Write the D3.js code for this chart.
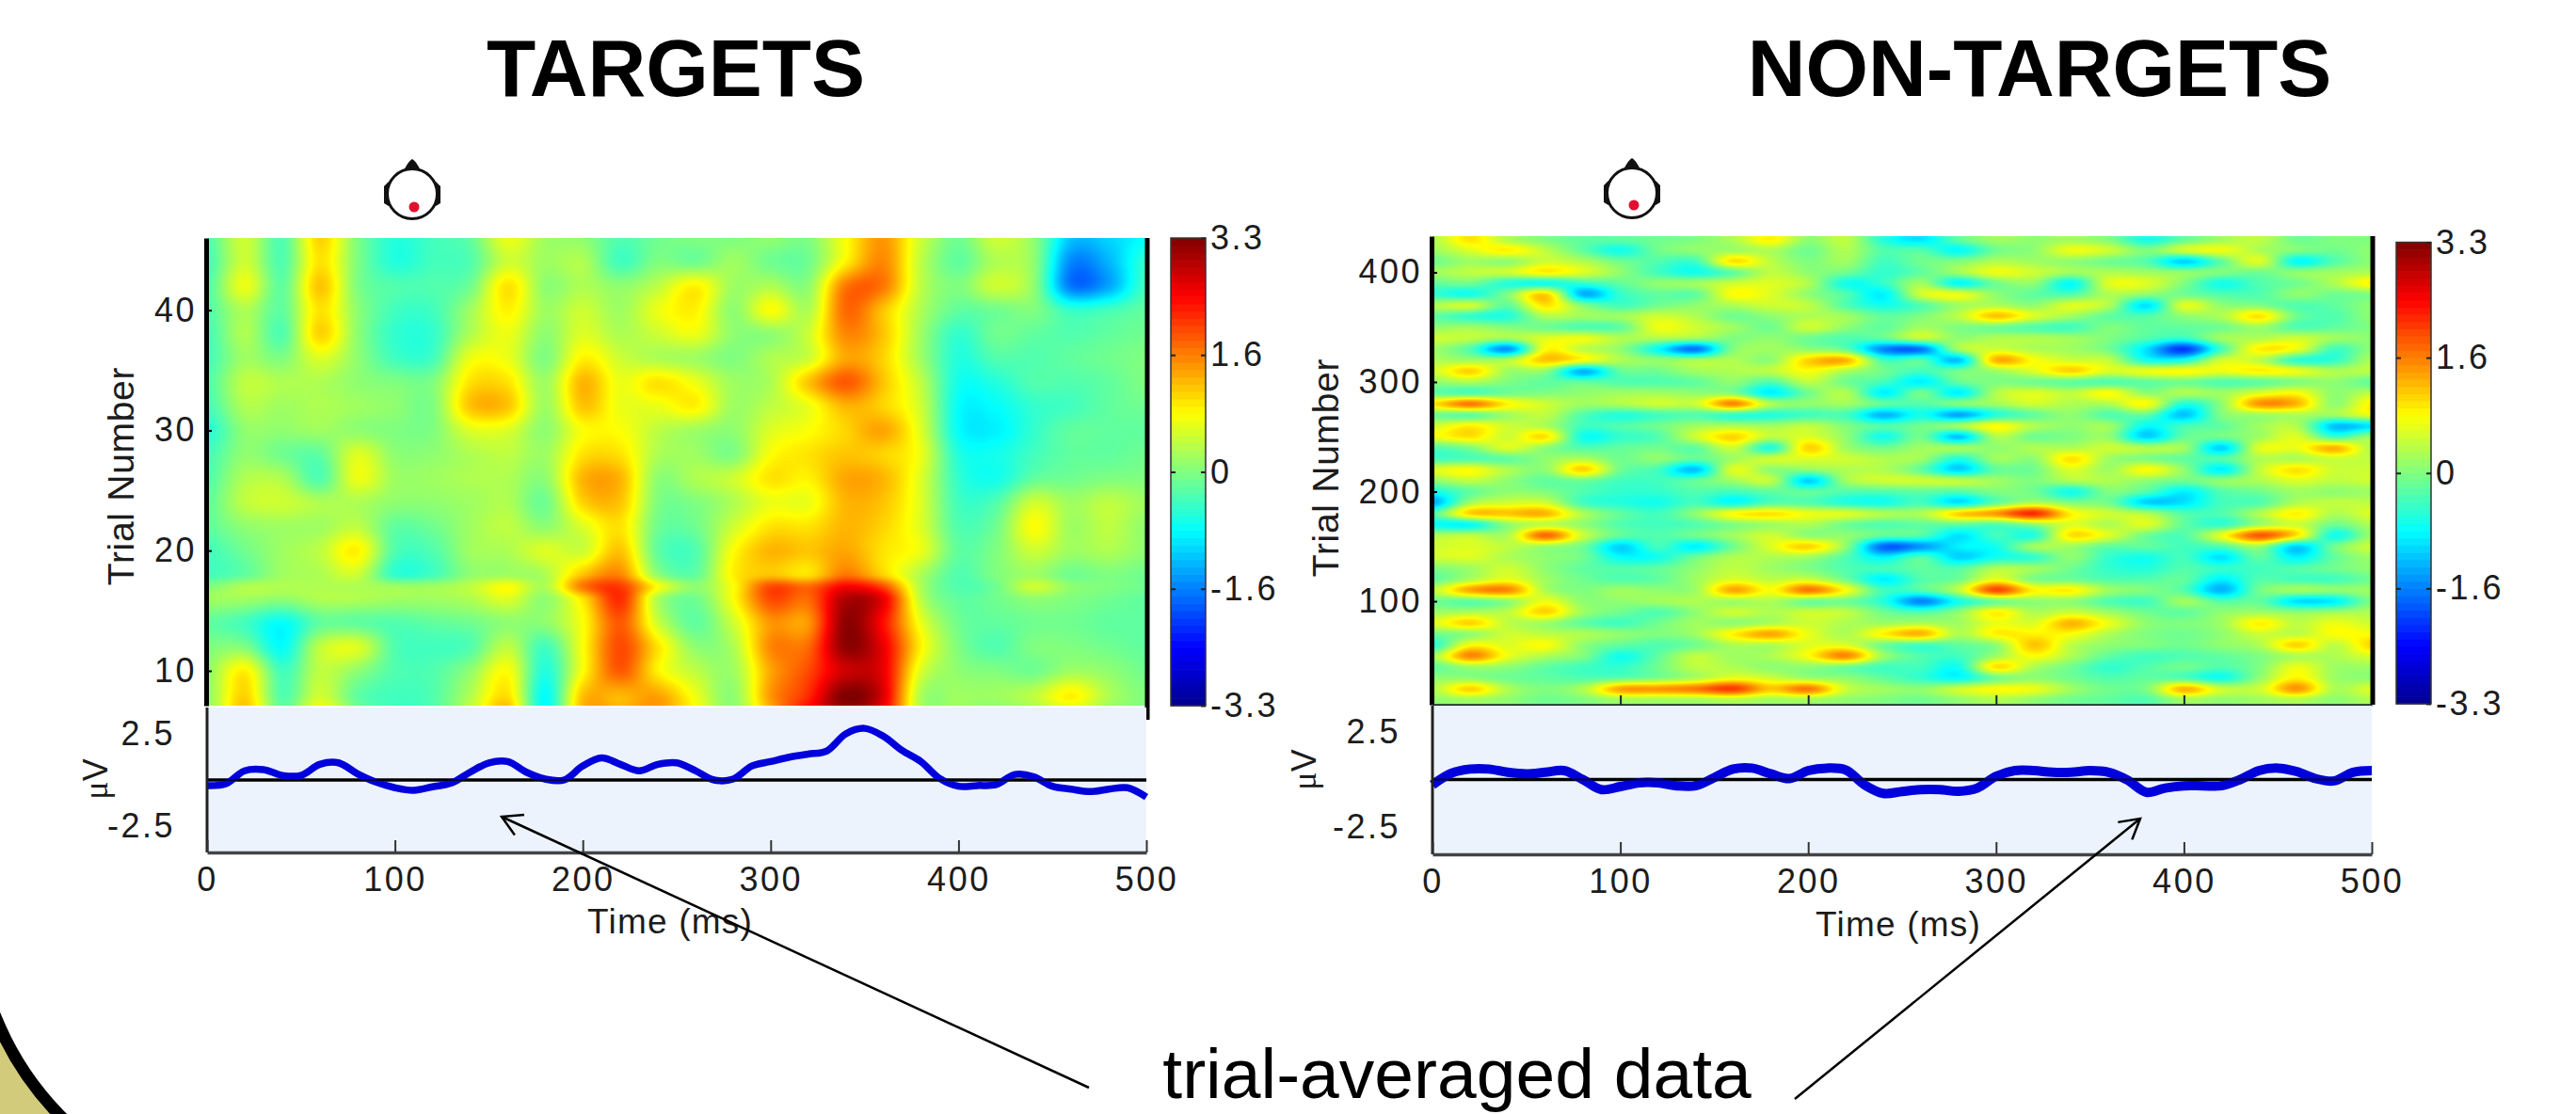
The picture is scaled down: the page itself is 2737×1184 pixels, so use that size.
<!DOCTYPE html>
<html>
<head>
<meta charset="utf-8">
<script src="https://cdn.jsdelivr.net/npm/d3@7"></script>
<style>
html, body { margin: 0; padding: 0; background: #fff; }
svg { display: block; font-family: "Liberation Sans", Arial, sans-serif; }
</style>
</head>
<body>
<svg id="chart" width="2737" height="1184"></svg>
<script>
// ---- data. Heatmap cells are in 0.1 uV ----
const gridTimes = [0,20,40,60,80,100,120,140,160,180,200,220,240,260,280,300,320,340,360,380,400,420,440,460,480,500];
const erpTimes = [0,10,20,30,40,50,60,70,80,90,100,110,120,130,140,150,160,170,180,190,200,210,220,230,240,250,260,270,280,290,300,310,320,330,340,350,360,370,380,390,400,410,420,430,440,450,460,470,480,490,500];

const targetTrials = [46,44,42,40,38,36,34,32,30,28,26,24,22,20,18,17,16,14,12,10,8,7];
const targetCells = [
  [-3,5,-3,11,0,-6,-4,-2,7,2,1,-3,-1,0,0,1,0,8,15,5,-1,5,1,-12,-11,-8],
  [-4,5,-3,10,0,-6,-4,-3,5,2,3,-4,0,-1,2,-1,-1,9,16,4,-2,3,1,-16,-13,-5],
  [-3,7,-2,12,0,-3,-3,-1,10,1,3,1,4,9,2,3,1,17,17,4,0,5,1,-17,-14,-4],
  [-3,3,-2,10,1,-4,-4,2,9,2,5,2,7,9,1,8,3,18,12,3,-2,-1,0,-5,-4,-2],
  [-4,3,-3,11,1,-5,-5,3,7,1,6,3,5,7,1,1,5,16,12,2,-5,-1,-2,-3,-2,-1],
  [-4,2,0,6,1,-4,-4,7,7,0,9,5,3,2,0,3,5,14,11,2,-6,-3,-3,-2,-1,0],
  [-3,4,3,3,1,0,0,10,10,2,13,7,10,7,2,3,12,19,12,4,-7,-6,-3,-3,-2,0],
  [-4,3,2,3,2,1,0,12,12,2,12,7,7,9,2,4,7,13,11,5,-8,-8,-5,-4,-2,-1],
  [-6,1,1,2,1,0,0,6,6,1,8,8,4,2,1,6,8,11,14,6,-8,-9,-5,-2,-2,-2],
  [-4,1,-1,-2,6,1,1,3,4,2,10,10,3,2,0,8,10,12,11,7,-6,-7,-4,-2,-2,-1],
  [-3,3,3,-3,7,2,2,3,3,1,13,13,1,3,5,10,9,14,13,6,-5,-7,-2,-1,0,0],
  [-2,4,5,3,3,1,1,2,3,-1,11,12,0,0,3,7,7,13,12,6,-4,-3,5,2,4,2],
  [-2,1,2,2,4,-2,-1,2,4,1,6,10,-1,-1,5,10,10,13,11,6,-3,-1,8,2,4,1],
  [-4,-1,2,4,9,-3,-3,2,3,6,5,12,-2,-3,8,13,12,14,10,7,-2,0,5,2,3,1],
  [-4,-2,2,3,5,-5,-4,1,2,3,12,16,1,-2,9,12,10,17,11,3,-3,0,2,-1,0,-1],
  [0,3,3,3,3,2,2,4,8,3,17,21,8,1,8,20,18,25,20,3,-3,-1,5,1,0,-1],
  [2,2,1,3,3,2,2,3,6,1,10,22,3,-1,8,20,18,30,26,4,-2,-1,1,0,-1,-2],
  [-2,-4,-8,-2,-2,-3,-2,-1,1,1,8,19,5,-2,5,15,15,32,24,7,-1,-2,-1,-1,-2,-2],
  [0,0,-8,4,6,-3,-4,-3,4,-4,8,20,10,1,3,16,18,32,26,9,0,-3,0,0,-1,-2],
  [1,9,-4,4,1,-3,-3,1,8,-6,8,19,9,4,2,14,20,28,26,6,1,0,-1,2,1,-1],
  [1,11,-3,5,-2,-4,-3,3,10,-8,12,13,14,7,1,15,22,33,27,3,2,2,4,9,3,0],
  [1,12,-2,7,-1,-4,-3,4,12,-8,13,13,15,8,1,14,24,32,26,3,2,1,3,7,2,0]
];
const targetErp = [-0.3,-0.2,0.5,0.56,0.25,0.25,0.85,0.93,0.34,-0.12,-0.42,-0.56,-0.37,-0.17,0.42,0.93,1.0,0.42,0.05,0,0.76,1.2,0.85,0.5,0.85,0.93,0.5,0,0.05,0.76,1.0,1.24,1.4,1.58,2.5,2.8,2.37,1.6,1.0,0.08,-0.34,-0.3,-0.25,0.3,0.17,-0.34,-0.5,-0.63,-0.5,-0.42,-0.93];

const nonTargetTrials = [430,420,410,400,390,380,370,360,350,340,330,320,310,300,290,280,270,260,250,240,230,220,210,200,190,180,170,160,150,140,130,120,110,100,90,80,70,60,50,40,30,20,10];
const nonTargetCells = [
  [3,10,3,0,-2,-2,-1,0,3,9,1,4,-6,-10,-2,2,1,2,0,-7,-2,2,4,-1,0,0],
  [2,6,9,4,-2,-7,-1,1,2,3,-1,3,-3,-3,-8,-1,1,7,5,0,5,7,3,0,-1,1],
  [-1,2,1,5,3,-1,-3,-4,10,4,0,2,-4,-1,0,3,2,1,-1,-3,-11,-2,6,-8,-3,1],
  [2,4,5,9,6,1,-4,-7,-2,4,1,-1,-5,-2,2,7,5,2,3,2,1,0,-1,1,2,3],
  [-2,-1,-6,-7,-5,-2,1,2,5,6,3,-7,-5,2,-8,-1,1,-8,6,6,0,-7,-3,-1,3,9],
  [-5,-7,0,11,-13,-5,-2,-2,8,6,1,-3,-9,5,7,1,-2,-3,3,1,-1,-3,-3,1,-1,0],
  [3,5,-2,10,0,-4,-1,1,3,5,4,-3,-7,-3,2,3,1,6,3,-10,6,1,0,-3,-2,1],
  [-2,-5,-6,3,2,2,5,3,-1,1,3,2,-2,0,4,12,6,2,-2,-3,1,3,10,-1,-3,1],
  [1,2,0,-1,-3,-2,7,5,2,-1,5,1,-2,2,0,-1,-3,-4,0,-2,-2,-1,2,-3,-2,0],
  [5,4,2,6,7,3,3,2,0,1,-1,-3,-2,4,1,3,3,2,0,-3,-5,2,3,5,2,1],
  [2,-3,-15,8,4,1,-8,-17,0,2,1,-2,-16,-17,2,5,3,2,-1,-10,-21,-4,9,7,-4,1],
  [3,2,3,12,8,3,1,2,3,1,11,13,-4,-3,-12,13,8,5,4,-7,-7,5,4,-5,-5,3],
  [5,11,2,1,-13,-2,-1,2,3,4,8,3,-1,-4,-1,2,6,11,6,7,8,7,9,7,3,4],
  [1,3,0,-2,-2,-3,-3,-2,1,-3,4,-1,-4,-9,-2,0,-1,-2,-3,-2,-1,-3,-2,0,1,-2],
  [-2,-3,-1,0,1,2,2,1,0,-9,-1,3,-9,-1,-9,3,6,4,8,1,3,2,6,8,1,4],
  [10,17,9,5,2,3,5,5,16,3,1,2,-2,-3,0,2,5,3,3,8,-6,1,15,13,1,9],
  [-1,-2,2,4,-3,-6,-4,-3,-5,-6,-4,-4,-13,-7,-14,-6,-2,1,-3,-2,-12,0,2,3,2,7],
  [5,9,5,3,-4,-3,-1,2,3,2,4,0,-3,-1,2,8,3,1,2,-8,-4,-2,2,3,-12,-10],
  [7,10,5,10,-7,-5,-3,5,11,4,6,1,-7,-1,-12,3,-1,0,1,-11,-2,-1,2,6,-4,2],
  [-3,0,6,1,-3,-2,-1,-2,5,-6,11,2,-1,2,2,1,3,3,5,3,2,-11,6,7,13,3],
  [-4,-3,-2,1,3,-1,1,-2,2,5,6,5,3,2,-6,2,1,10,2,0,-2,-3,3,3,5,4],
  [6,8,3,1,11,-1,-4,-12,6,1,1,3,3,-2,-11,-2,-1,6,2,8,1,-9,4,10,5,5],
  [1,4,1,-2,-1,-4,-4,-2,2,4,-11,2,5,5,4,2,0,3,3,1,-1,1,3,6,4,5],
  [-7,-2,1,0,-3,-5,-5,-3,-4,-2,-2,-3,-3,-2,-3,0,-1,-7,0,-3,-9,-3,-1,2,1,2],
  [-14,2,5,5,-4,-6,-7,-4,-8,-3,-3,-6,-7,-4,-10,-2,3,0,-1,-11,-10,-4,-3,3,4,4],
  [-3,11,12,13,3,-2,-4,1,8,10,7,6,3,3,11,15,22,9,5,3,-3,-3,3,9,3,6],
  [-8,-8,1,4,1,-3,-4,-3,0,2,3,-1,-3,-2,-2,-3,1,6,3,6,-2,-5,2,5,-1,3],
  [3,4,3,18,5,-2,-3,-1,2,5,1,1,-2,-3,-10,-4,-6,10,6,-1,-3,7,19,10,-7,2],
  [5,6,4,2,-1,-11,-4,-9,-1,6,11,1,-18,-15,-9,-7,2,2,-2,-2,-4,-3,2,-11,-1,5],
  [5,6,3,1,-1,-8,-7,-1,3,3,2,-3,-9,-3,-11,-7,-5,1,-5,-7,-4,-10,-2,-9,-2,2],
  [0,2,5,1,-2,-3,-2,1,4,2,0,-3,-4,-2,-3,3,2,-1,-5,-6,-3,-5,-4,-3,-1,1],
  [-2,3,7,2,-1,-3,-2,2,6,4,5,-1,-9,-3,-1,7,0,-1,-3,-3,-2,-9,-3,-4,-4,-1],
  [4,14,16,3,0,2,1,2,14,8,17,8,-4,-3,4,20,9,9,2,0,-3,-13,-1,2,1,2],
  [-1,-2,1,7,1,1,2,3,2,3,-1,-1,-6,-16,-7,-1,1,1,-3,-4,2,-3,-2,-10,-9,0],
  [2,3,4,11,2,-1,-3,1,5,3,5,4,-1,-3,1,9,3,5,2,-1,-2,1,2,1,2,3],
  [6,11,4,2,-2,-4,-1,2,1,3,5,3,2,3,2,7,6,13,7,1,0,2,9,4,7,5],
  [-1,1,5,4,3,1,0,2,9,14,7,3,9,13,3,9,9,8,3,0,-1,1,5,4,8,8],
  [-6,8,6,8,1,-2,-3,-1,3,3,6,6,-1,-4,-2,1,12,4,1,0,-1,1,3,11,4,11],
  [2,16,7,3,0,-7,-2,4,2,3,8,16,2,-3,-4,2,8,3,-2,-4,-3,-2,0,3,3,6],
  [-2,2,1,-2,-4,-5,-1,4,3,1,1,-1,-4,-4,-7,10,3,-1,-5,-3,-1,-3,0,7,2,2],
  [1,1,-1,-2,-3,-2,0,3,7,5,2,1,-2,-5,-8,-1,1,-1,-3,-2,-3,-7,1,9,2,1],
  [3,11,3,0,3,14,15,17,21,12,17,5,2,1,5,8,7,2,-1,0,13,5,5,15,3,6],
  [1,2,1,-1,0,2,2,2,3,2,2,1,0,-1,1,3,1,-1,-2,-3,2,1,2,3,1,3]
];
const nonTargetErp = [-0.28,0.33,0.55,0.55,0.38,0.3,0.38,0.47,0,-0.53,-0.37,-0.17,-0.17,-0.33,-0.33,0.1,0.55,0.6,0.3,0.05,0.47,0.6,0.5,-0.28,-0.73,-0.63,-0.53,-0.53,-0.62,-0.45,0.17,0.47,0.47,0.38,0.38,0.47,0.38,-0.03,-0.67,-0.45,-0.33,-0.33,-0.33,0,0.47,0.6,0.42,0.05,-0.07,0.38,0.47];

const timeTicks = [0,100,200,300,400,500];
const erpTicks = [-2.5,2.5];
const colorbarTicks = [3.3,1.65,0,-1.65,-3.3];
const colorbarLabels = ['3.3','1.6','0','-1.6','-3.3'];
const jetStops = [-3.3,-2.475,-0.825,0.825,2.475,3.3];
const jetColors = ['#00008f','#0000ff','#00ffff','#ffff00','#ff0000','#800000'];

const svg = d3.select('#chart');
const jet = d3.scaleLinear().domain(jetStops).range(jetColors).clamp(true);
const tickFont = 36;

// catmull-rom along one row/column of the grid, so the image looks like shading interp
function cubic(a, b, c, d, t) {
    return b + 0.5 * t * (c - a + t * (2 * a - 5 * b + 4 * c - d + t * (3 * (b - c) + d - a)));
}

function heatImage(g, cells, trials, x, y) {
    const [x0, x1] = x.range();
    const [y1, y0] = y.range();
    const w = Math.round(x1 - x0), h = Math.round(y1 - y0);
    const colIndex = d3.scaleLinear().domain(gridTimes).range(d3.range(gridTimes.length)).clamp(true);
    const rowIndex = d3.scaleLinear().domain(trials).range(d3.range(trials.length)).clamp(true);
    const nr = trials.length, nc = gridTimes.length;
    const at = (r, c) => cells[Math.max(0, Math.min(nr - 1, r))][Math.max(0, Math.min(nc - 1, c))];

    const canvas = d3.create('canvas').attr('width', w).attr('height', h).node();
    const ctx = canvas.getContext('2d');
    const img = ctx.createImageData(w, h);
    for (let py = 0; py < h; py++) {
        const rf = rowIndex(y.invert(y0 + py + 0.5));
        const r = Math.floor(rf), tr = rf - r;
        for (let px = 0; px < w; px++) {
            const cf = colIndex(x.invert(x0 + px + 0.5));
            const c = Math.floor(cf), tc = cf - c;
            const vals = [-1, 0, 1, 2].map(dr => cubic(at(r + dr, c - 1), at(r + dr, c), at(r + dr, c + 1), at(r + dr, c + 2), tc));
            const v = cubic(vals[0], vals[1], vals[2], vals[3], tr) / 10;
            const col = d3.rgb(jet(v));
            const i = (py * w + px) * 4;
            img.data[i] = col.r; img.data[i + 1] = col.g; img.data[i + 2] = col.b; img.data[i + 3] = 255;
        }
    }
    ctx.putImageData(img, 0, 0);
    g.append('image').attr('x', x0).attr('y', y0).attr('width', w).attr('height', h)
        .attr('href', canvas.toDataURL());
}

function styleAxisText(g) {
    g.selectAll('text').attr('font-size', tickFont).attr('fill', '#1c1c1c').attr('letter-spacing', 2.5)
        .attr('font-family', '"Liberation Sans", Arial, sans-serif');
}

function head(cx, cy, dotX, dotY) {
    const g = svg.append('g').attr('transform', `translate(${cx},${cy})`);
    g.append('circle').attr('r', 26.5).attr('fill', 'none').attr('stroke', '#111').attr('stroke-width', 3);
    g.append('path').attr('d', 'M-9,-25 Q-3,-36 0,-37 Q3,-36 9,-25 Z').attr('fill', '#111');
    g.append('path').attr('d', 'M-25,-13 L-30,-8 L-30,10 L-25,13 Z').attr('fill', '#111');
    g.append('path').attr('d', 'M25,-13 L30,-8 L30,10 L25,13 Z').attr('fill', '#111');
    g.append('circle').attr('cx', dotX).attr('cy', dotY).attr('r', 5.5).attr('fill', '#e0102f');
}

function panel(p) {
    const g = svg.append('g');
    const x = d3.scaleLinear().domain([0, 500]).range(p.xRange);
    const y = d3.scaleLinear().domain(p.trialDomain).range(p.heatY);
    const erpY = d3.scaleLinear().domain([-2.5, 2.5]).range(p.erpTickY);

    heatImage(g, p.cells, p.trials, x, y);

    // trial axis
    const yAxis = g.append('g').attr('transform', `translate(${p.xRange[0] - 1},0)`)
        .call(d3.axisLeft(y).tickValues(p.trialTicks).tickFormat(d3.format('d')).tickSize(-6).tickSizeOuter(0).tickPadding(10));
    yAxis.select('.domain').attr('stroke', '#000').attr('stroke-width', 5);
    yAxis.selectAll('line').attr('stroke', '#000').attr('stroke-width', 2);
    styleAxisText(yAxis);

    // thick right edge of the image
    g.append('line').attr('x1', p.xRange[1] + 1).attr('x2', p.xRange[1] + 1)
        .attr('y1', p.heatY[1]).attr('y2', p.edgeBottom)
        .attr('stroke', '#000').attr('stroke-width', 5);

    if (p.heatTicks) {
        const hx = g.append('g').attr('transform', `translate(0,${p.heatY[0]})`)
            .call(d3.axisBottom(x).tickValues(p.heatTicks).tickFormat('').tickSize(-10).tickSizeOuter(0));
        hx.select('.domain').attr('stroke', '#1a2a2a').attr('stroke-width', 2.5);
        hx.selectAll('line').attr('stroke', '#1a2a2a').attr('stroke-width', 2);
    }

    // erp strip
    g.append('rect').attr('x', p.xRange[0]).attr('y', p.erpBox[0])
        .attr('width', p.xRange[1] - p.xRange[0]).attr('height', p.erpBox[1] - p.erpBox[0])
        .attr('fill', '#edf3fc');
    g.append('line').attr('x1', x(0)).attr('x2', x(500)).attr('y1', erpY(0)).attr('y2', erpY(0))
        .attr('stroke', '#000').attr('stroke-width', 3.5);
    g.append('path').datum(p.erp)
        .attr('d', d3.line().x((d, i) => x(erpTimes[i])).y(d => erpY(d)).curve(d3.curveCatmullRom.alpha(0.5)))
        .attr('fill', 'none').attr('stroke', '#0000dc').attr('stroke-width', p.erpWidth).attr('stroke-linejoin', 'round');
    // the zero line stays visible through the curve
    g.append('line').attr('x1', x(0)).attr('x2', x(500)).attr('y1', erpY(0)).attr('y2', erpY(0))
        .attr('stroke', '#000').attr('stroke-width', 2).attr('opacity', 0.75);

    const erpAxis = g.append('g').attr('transform', `translate(${p.xRange[0]},0)`)
        .call(d3.axisLeft(erpY).tickValues(erpTicks).tickFormat(d => d.toFixed(1)).tickSize(0).tickPadding(34));
    erpAxis.select('.domain').attr('d', `M0,${p.erpBox[0]}V${p.erpBox[1]}`).attr('stroke', '#222').attr('stroke-width', 3);
    styleAxisText(erpAxis);

    const xAxis = g.append('g').attr('transform', `translate(0,${p.erpBox[1]})`)
        .call(d3.axisBottom(x).tickValues(timeTicks).tickFormat(d3.format('d')).tickSize(-13).tickSizeOuter(0).tickPadding(15));
    xAxis.select('.domain').attr('stroke', '#444').attr('stroke-width', 3.5);
    xAxis.selectAll('line').attr('stroke', '#333').attr('stroke-width', 2);
    styleAxisText(xAxis);

    // labels
    g.append('text').attr('transform', `translate(${p.trialLabel[0]},${p.trialLabel[1]}) rotate(-90)`)
        .attr('text-anchor', 'middle').attr('font-size', 39).attr('letter-spacing', 0.7).attr('fill', '#1c1c1c').text('Trial Number');
    g.append('text').attr('x', p.timeLabel[0]).attr('y', p.timeLabel[1])
        .attr('text-anchor', 'middle').attr('font-size', 37).attr('letter-spacing', 1.2).attr('fill', '#1c1c1c').text('Time (ms)');
    g.append('text').attr('transform', `translate(${p.uvLabel[0]},${p.uvLabel[1]}) rotate(-90)`)
        .attr('text-anchor', 'middle').attr('font-size', 36).attr('fill', '#1c1c1c')
        .html('<tspan font-family="Liberation Serif">\u03bc</tspan>V');

    // colorbar
    const cb = d3.scaleLinear().domain([-3.3, 3.3]).range(p.cbY);
    const levels = d3.range(64).map(i => -3.3 + (i + 0.5) * 6.6 / 64);
    g.append('g').selectAll('rect').data(levels).join('rect')
        .attr('x', p.cbX[0]).attr('width', p.cbX[1] - p.cbX[0])
        .attr('y', d => cb(d + 3.3 / 64)).attr('height', Math.abs(cb(0) - cb(6.6 / 64)) + 0.6)
        .attr('fill', d => jet(d));
    g.append('rect').attr('x', p.cbX[0]).attr('y', p.cbY[1])
        .attr('width', p.cbX[1] - p.cbX[0]).attr('height', p.cbY[0] - p.cbY[1])
        .attr('fill', 'none').attr('stroke', '#333').attr('stroke-width', 1.5);
    const cbAxis = g.append('g').attr('transform', `translate(${p.cbX[1]},0)`)
        .call(d3.axisRight(cb).tickValues(colorbarTicks).tickFormat((d, i) => colorbarLabels[i]).tickSize(-5).tickSizeOuter(0).tickPadding(5));
    cbAxis.select('.domain').remove();
    cbAxis.selectAll('line').attr('stroke', '#222').attr('stroke-width', 2);
    styleAxisText(cbAxis);
    const cbLeft = g.append('g').attr('transform', `translate(${p.cbX[0]},0)`)
        .call(d3.axisLeft(cb).tickValues(colorbarTicks.slice(1, 4)).tickFormat('').tickSize(-5).tickSizeOuter(0));
    cbLeft.select('.domain').remove();
    cbLeft.selectAll('line').attr('stroke', '#222').attr('stroke-width', 2);
}

function arrow(x0, y0, x1, y1) {
    const a = Math.atan2(y0 - y1, x0 - x1);
    const len = 24, spread = 0.52;
    const g = svg.append('g').attr('fill', 'none').attr('stroke', '#000').attr('stroke-width', 2.5);
    g.append('line').attr('x1', x0).attr('y1', y0).attr('x2', x1).attr('y2', y1);
    const path = d3.path();
    path.moveTo(x1 + len * Math.cos(a - spread), y1 + len * Math.sin(a - spread));
    path.lineTo(x1, y1);
    path.lineTo(x1 + len * Math.cos(a + spread), y1 + len * Math.sin(a + spread));
    g.append('path').attr('d', path.toString());
}

// slide decoration in the corner
svg.append('path').attr('d', 'M-6.6,1077 L0,1092 Q22,1142 62,1184 L70,1192 L-10,1192 Z')
    .attr('fill', '#d3cb7c').attr('stroke', '#000').attr('stroke-width', 13);

panel({
    cells: targetCells, trials: targetTrials, erp: targetErp, erpWidth: 7.5,
    xRange: [220, 1218], heatY: [750, 253], trialDomain: [7.1, 46],
    trialTicks: [10, 20, 30, 40], edgeBottom: 765,
    erpBox: [752, 906], erpTickY: [878, 780],
    cbX: [1244, 1281], cbY: [750, 253],
    trialLabel: [142, 506], timeLabel: [712, 992], uvLabel: [114, 828]
});
panel({
    cells: nonTargetCells, trials: nonTargetTrials, erp: nonTargetErp, erpWidth: 10,
    xRange: [1522, 2520], heatY: [749, 251], trialDomain: [5.6, 433],
    trialTicks: [100, 200, 300, 400], heatTicks: [100, 200, 300, 400], edgeBottom: 749,
    erpBox: [750, 908], erpTickY: [879, 778],
    cbX: [2546, 2583], cbY: [748, 257.5],
    trialLabel: [1422, 497], timeLabel: [2017, 995], uvLabel: [1398, 818]
});

head(438, 206, 2, 14);
head(1734, 205, 2, 13);

// titles and the note at the bottom
svg.append('text').attr('x', 718).attr('y', 102).attr('text-anchor', 'middle')
    .attr('font-size', 85.5).attr('font-weight', 'bold').attr('fill', '#000').text('TARGETS');
svg.append('text').attr('x', 2167).attr('y', 102).attr('text-anchor', 'middle')
    .attr('font-size', 85.5).attr('font-weight', 'bold').attr('fill', '#000').text('NON-TARGETS');
svg.append('text').attr('x', 1548).attr('y', 1167).attr('text-anchor', 'middle')
    .attr('font-size', 75).attr('fill', '#000').text('trial-averaged data');

arrow(1157, 1156, 533, 868);
arrow(1907, 1168, 2274, 870);
</script>
</body>
</html>
